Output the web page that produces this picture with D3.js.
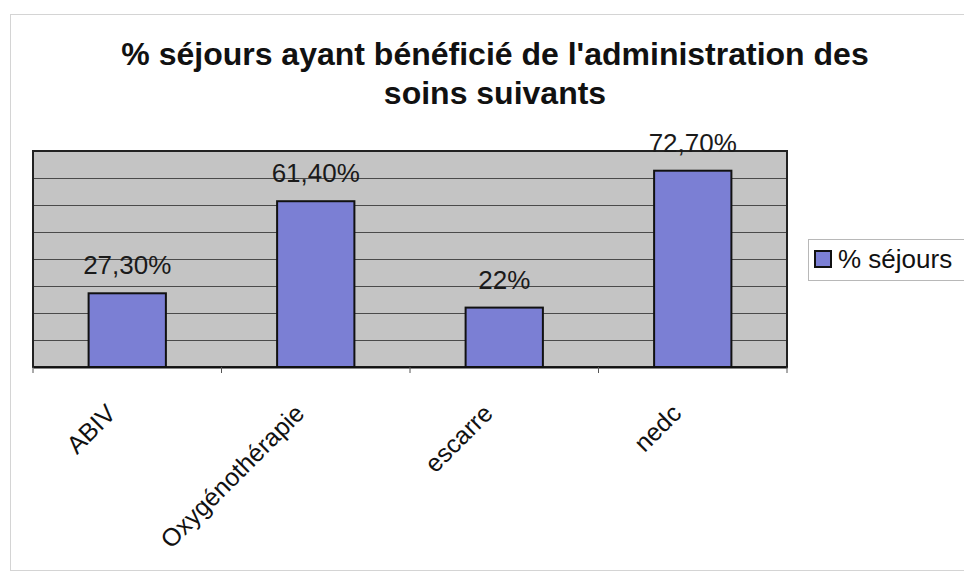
<!DOCTYPE html>
<html>
<head>
<meta charset="utf-8">
<script src="https://cdn.jsdelivr.net/npm/d3@7"></script>
<style>
  html, body { margin: 0; padding: 0; background: #ffffff; }
  svg { display: block; }
  text { font-family: "Liberation Sans", Arial, sans-serif; }
</style>
</head>
<body>
<svg id="chart" width="964" height="574"></svg>
<script>
const categories = ["ABIV", "Oxygénothérapie", "escarre", "nedc"];
const values = [27.3, 61.4, 22, 72.7];
const valueLabels = ["27,30%", "61,40%", "22%", "72,70%"];
const gridTicks = [0, 10, 20, 30, 40, 50, 60, 70, 80];
const seriesName = "% séjours";
const titleLines = ["% séjours ayant bénéficié de l'administration des", "soins suivants"];

const svg = d3.select("#chart");
const plot = { left: 33, right: 787, top: 151, bottom: 367 };
const barColor = "#7b7fd4";

// outer chart frame
svg.append("rect")
  .attr("x", 10.5).attr("y", 14.5)
  .attr("width", 960).attr("height", 556)
  .attr("fill", "none").attr("stroke", "#d4d4d4").attr("stroke-width", 1);

// title
const title = svg.append("text")
  .attr("text-anchor", "middle")
  .attr("font-weight", "bold")
  .attr("font-size", 32)
  .attr("fill", "#111");
titleLines.forEach((t, i) => {
  title.append("tspan").attr("x", 495).attr("y", 65 + i * 39).text(t);
});

const x = d3.scaleBand()
  .domain(categories)
  .range([plot.left, plot.right])
  .paddingInner(0.59)
  .paddingOuter(0.295);

const y = d3.scaleLinear()
  .domain([0, 80])
  .range([plot.bottom, plot.top]);

// plot background
svg.append("rect")
  .attr("x", plot.left).attr("y", plot.top)
  .attr("width", plot.right - plot.left)
  .attr("height", plot.bottom - plot.top)
  .attr("fill", "#c4c4c4");

// gridlines
svg.append("g")
  .selectAll("line")
  .data(gridTicks.filter(d => d > 0 && d < 80))
  .join("line")
  .attr("x1", plot.left).attr("x2", plot.right)
  .attr("y1", d => Math.round(y(d)) + 0.5)
  .attr("y2", d => Math.round(y(d)) + 0.5)
  .attr("stroke", "#4a4a4a")
  .attr("stroke-width", 1);

// plot border
svg.append("rect")
  .attr("x", plot.left).attr("y", plot.top)
  .attr("width", plot.right - plot.left)
  .attr("height", plot.bottom - plot.top)
  .attr("fill", "none")
  .attr("stroke", "#222")
  .attr("stroke-width", 2);

// bars
svg.append("g")
  .selectAll("rect")
  .data(values)
  .join("rect")
  .attr("x", (d, i) => x(categories[i]))
  .attr("y", d => y(d))
  .attr("width", x.bandwidth())
  .attr("height", d => y(0) - y(d))
  .attr("fill", barColor)
  .attr("stroke", "#111")
  .attr("stroke-width", 2);

// x axis (category boundary ticks)
const xAxis = d3.axisBottom(x).tickSize(0).tickFormat("");
const gx = svg.append("g")
  .attr("transform", `translate(0,${plot.bottom})`)
  .call(xAxis);
gx.select(".domain").attr("stroke", "#111").attr("stroke-width", 2);
const step = x.step();
const boundaries = d3.range(categories.length + 1).map(i => plot.left + i * step);
gx.selectAll("line.bound")
  .data(boundaries)
  .join("line")
  .attr("class", "bound")
  .attr("x1", d => d).attr("x2", d => d)
  .attr("y1", 0).attr("y2", 6)
  .attr("stroke", "#555").attr("stroke-width", 1);

// category labels
svg.append("g")
  .selectAll("text")
  .data(categories)
  .join("text")
  .attr("transform", d => `translate(${x(d) + x.bandwidth() / 2 - 10},${415}) rotate(-45)`)
  .attr("text-anchor", "end")
  .attr("font-size", 25)
  .attr("fill", "#111")
  .text(d => d);

// value labels
svg.append("g")
  .selectAll("text")
  .data(values)
  .join("text")
  .attr("x", (d, i) => x(categories[i]) + x.bandwidth() / 2)
  .attr("y", d => y(d) - 19)
  .attr("text-anchor", "middle")
  .attr("font-size", 26)
  .attr("fill", "#1a1a1a")
  .text((d, i) => valueLabels[i]);

// legend
const lg = svg.append("g");
lg.append("rect")
  .attr("x", 808.5).attr("y", 239.5)
  .attr("width", 170).attr("height", 41)
  .attr("fill", "#fff").attr("stroke", "#b8b8b8");
lg.append("rect")
  .attr("x", 815).attr("y", 251)
  .attr("width", 16).attr("height", 16)
  .attr("fill", barColor).attr("stroke", "#111").attr("stroke-width", 2);
lg.append("text")
  .attr("x", 838).attr("y", 268)
  .attr("font-size", 26)
  .attr("fill", "#111")
  .text(seriesName);
</script>
</body>
</html>
